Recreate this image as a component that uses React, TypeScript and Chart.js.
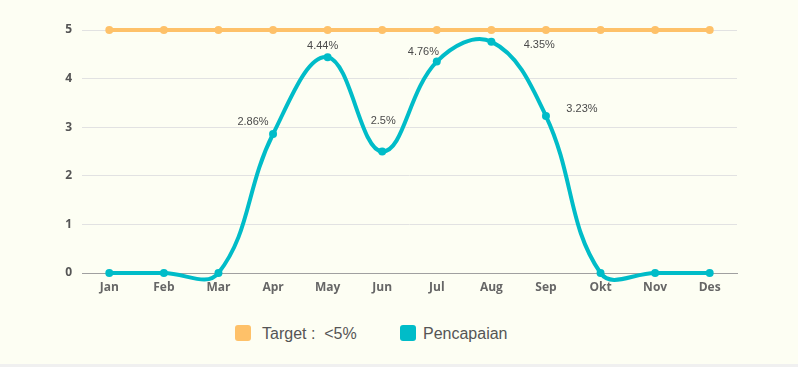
import React, { useEffect, useRef } from "react";
import { Chart, registerables } from "chart.js";

Chart.register(...registerables);

const months = ["Jan", "Feb", "Mar", "Apr", "May", "Jun", "Jul", "Aug", "Sep", "Okt", "Nov", "Des"];
const targetValues = [5, 5, 5, 5, 5, 5, 5, 5, 5, 5, 5, 5];
const achievedValues = [0, 0, 0, 2.86, 4.44, 2.5, 4.35, 4.76, 3.23, 0, 0, 0];
const yTickMin = 0;
const yTickMax = 5;
const yTickStep = 1;
const seriesNames = ["Target :  <5%", "Pencapaian"];
const seriesColors = ["#FEC169", "#00BCC8"];

// pixel offsets of the value labels relative to their points (style only)
const labelOffsets: Record<number, [number, number]> = {
  3: [-20, -12.5],
  4: [-5, -11.5],
  5: [1, -31],
  6: [102.5, -16.5],
  7: [-68, 10],
  8: [36, -7],
};

const valueLabelPlugin = {
  id: "valueLabels",
  afterDatasetsDraw(chart: any) {
    const meta = chart.getDatasetMeta(1);
    const ctx = chart.ctx;
    ctx.save();
    ctx.font = '11px "Liberation Sans", Arial, sans-serif';
    ctx.fillStyle = "#4a4a4a";
    ctx.textAlign = "center";
    ctx.textBaseline = "middle";
    meta.data.forEach((pt: any, i: number) => {
      const v = achievedValues[i];
      if (!v) return;
      const off = labelOffsets[i] || [0, -12];
      ctx.fillText(v + "%", pt.x + off[0], pt.y + off[1]);
    });
    ctx.restore();
  },
};

const tickFont = { family: '"Open Sans", "DejaVu Sans", sans-serif', size: 12, weight: "bold" as const };

export default function App() {
  const canvasRef = useRef<HTMLCanvasElement | null>(null);

  useEffect(() => {
    if (!canvasRef.current) return;
    const chart = new Chart(canvasRef.current, {
      type: "line",
      data: {
        labels: months,
        datasets: [
          {
            label: seriesNames[0],
            data: targetValues,
            borderColor: seriesColors[0],
            backgroundColor: seriesColors[0],
            borderWidth: 4,
            pointRadius: 4,
            pointBorderWidth: 0,
            pointBackgroundColor: seriesColors[0],
            tension: 0.4,
            fill: false,
            clip: false,
            capBezierPoints: false,
          },
          {
            label: seriesNames[1],
            data: achievedValues,
            borderColor: seriesColors[1],
            backgroundColor: seriesColors[1],
            borderWidth: 4,
            pointRadius: 4,
            pointBorderWidth: 0,
            pointBackgroundColor: seriesColors[1],
            tension: 0.4,
            fill: false,
            clip: false,
            capBezierPoints: false,
          },
        ],
      },
      options: {
        responsive: false,
        animation: false,
        layout: { padding: { top: 30, right: 61, bottom: 0, left: 0 } },
        plugins: {
          legend: { display: false },
          tooltip: { enabled: false },
        },
        scales: {
          x: {
            offset: true,
            grid: { display: false, drawTicks: false },
            border: { display: true, color: "#a0a0a0", width: 1 },
            ticks: { padding: 7, color: "#666666", font: tickFont },
            afterFit: (s: any) => {
              s.height = 28;
            },
          },
          y: {
            min: yTickMin,
            max: yTickMax,
            ticks: { stepSize: yTickStep, padding: 10, color: "#555555", font: tickFont },
            grid: {
              drawTicks: false,
              color: (c: any) => (c.tick && c.tick.value === 0 ? "#a0a0a0" : "#e2e2e2"),
            },
            border: { display: false },
            afterFit: (s: any) => {
              s.width = 82;
            },
          },
        },
      },
      plugins: [valueLabelPlugin],
    });
    return () => chart.destroy();
  }, []);

  const legendText: React.CSSProperties = {
    position: "absolute",
    top: 325,
    height: 16,
    lineHeight: "16px",
    font: '16px "Liberation Sans", Arial, sans-serif',
    color: "#555555",
    whiteSpace: "pre",
  };
  const legendBox: React.CSSProperties = {
    position: "absolute",
    top: 325,
    width: 16,
    height: 16,
    borderRadius: 3,
  };

  return (
    <div style={{ position: "fixed", left: 0, top: 0, width: 798, height: 367, background: "#f0f0f0" }}>
      <div style={{ position: "relative", width: 798, height: 364, background: "#FDFEF3" }}>
        <canvas ref={canvasRef} width={798} height={301} style={{ display: "block" }} />
        <div style={{ ...legendBox, left: 235, background: seriesColors[0] }} />
        <div style={{ ...legendText, left: 262 }}>{seriesNames[0]}</div>
        <div style={{ ...legendBox, left: 400, background: seriesColors[1] }} />
        <div style={{ ...legendText, left: 423 }}>{seriesNames[1]}</div>
      </div>
    </div>
  );
}
